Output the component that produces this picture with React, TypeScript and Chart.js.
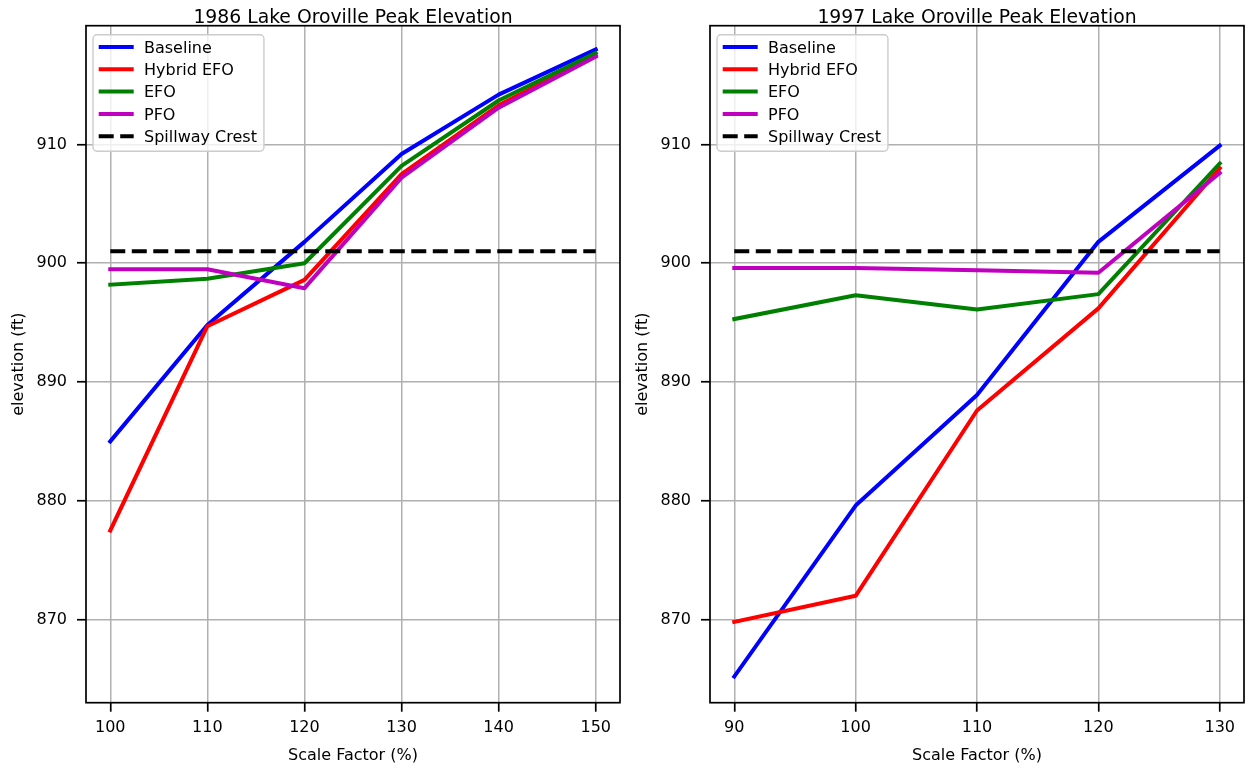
import React, { useEffect, useRef } from 'react';
import { Chart, registerables } from 'chart.js';

Chart.register(...registerables);

const FONT = '"DejaVu Sans", "Liberation Sans", sans-serif';

// ---------- data ----------
const seriesLabels = ['Baseline', 'Hybrid EFO', 'EFO', 'PFO', 'Spillway Crest'];
const seriesColors = ['#0000ff', '#ff0000', '#008000', '#bf00bf', '#000000'];

const title1986 = '1986 Lake Oroville Peak Elevation';
const x1986 = [100, 110, 120, 130, 140, 150];
const baseline1986 = [885.0, 894.8, 901.8, 909.2, 914.2, 918.0];
const hybrid1986 = [877.5, 894.7, 898.6, 907.5, 913.3, 917.5];
const efo1986 = [898.2, 898.7, 900.0, 908.2, 913.7, 917.7];
const pfo1986 = [899.5, 899.5, 897.9, 907.2, 913.1, 917.4];
const spill1986 = [901.0, 901.0, 901.0, 901.0, 901.0, 901.0];
const xTicks1986 = [100, 110, 120, 130, 140, 150];

const title1997 = '1997 Lake Oroville Peak Elevation';
const x1997 = [90, 100, 110, 120, 130];
const baseline1997 = [865.2, 879.6, 888.9, 901.8, 909.9];
const hybrid1997 = [869.8, 872.0, 887.6, 896.2, 908.0];
const efo1997 = [895.3, 897.3, 896.1, 897.4, 908.4];
const pfo1997 = [899.6, 899.6, 899.4, 899.2, 907.6];
const spill1997 = [901.0, 901.0, 901.0, 901.0, 901.0];
const xTicks1997 = [90, 100, 110, 120, 130];

const yTicks = [870, 880, 890, 900, 910];
const yLabel = 'elevation (ft)';
const xLabel = 'Scale Factor (%)';

const FS = 16;
const TITLE_FS = 18.8;

// ---------- plugins ----------
const framePlugin = {
  id: 'frameAndLegend',
  afterDatasetsDraw(chart: any) {
    const { ctx, chartArea } = chart;
    const { left, top, right, bottom } = chartArea;
    ctx.save();
    ctx.strokeStyle = '#000';
    ctx.lineWidth = 1.7;
    ctx.strokeRect(left, top, right - left, bottom - top);

    // legend
    ctx.font = `${FS}px ${FONT}`;
    const datasets = chart.data.datasets;
    let maxW = 0;
    datasets.forEach((d: any) => {
      maxW = Math.max(maxW, ctx.measureText(d.label).width);
    });
    const bx = left + 7;
    const by = top + 9;
    const textOff = 51;
    const bw = textOff + maxW + 7;
    const bh = 116.6;
    const r = 4;
    ctx.beginPath();
    ctx.moveTo(bx + r, by);
    ctx.lineTo(bx + bw - r, by);
    ctx.arcTo(bx + bw, by, bx + bw, by + r, r);
    ctx.lineTo(bx + bw, by + bh - r);
    ctx.arcTo(bx + bw, by + bh, bx + bw - r, by + bh, r);
    ctx.lineTo(bx + r, by + bh);
    ctx.arcTo(bx, by + bh, bx, by + bh - r, r);
    ctx.lineTo(bx, by + r);
    ctx.arcTo(bx, by, bx + r, by, r);
    ctx.closePath();
    ctx.fillStyle = 'rgba(255,255,255,0.8)';
    ctx.fill();
    ctx.strokeStyle = '#cccccc';
    ctx.lineWidth = 1.4;
    ctx.stroke();

    datasets.forEach((d: any, i: number) => {
      const rowY = top + 21.3 + i * 22.3;
      ctx.save();
      ctx.strokeStyle = d.borderColor;
      ctx.lineWidth = d.borderWidth;
      ctx.setLineDash(d.borderDash || []);
      ctx.lineCap = 'butt';
      ctx.beginPath();
      ctx.moveTo(bx + 5.7, rowY);
      ctx.lineTo(bx + 40.7, rowY);
      ctx.stroke();
      ctx.restore();
      ctx.fillStyle = '#000';
      ctx.textAlign = 'left';
      ctx.textBaseline = 'alphabetic';
      ctx.fillText(d.label, bx + textOff, rowY + 0.365 * FS);
    });

    // title
    const t = chart.options.plugins.customTitle?.text;
    if (t) {
      ctx.font = `${TITLE_FS}px ${FONT}`;
      ctx.fillStyle = '#000';
      ctx.textAlign = 'center';
      ctx.textBaseline = 'alphabetic';
      ctx.fillText(t, (left + right) / 2, 22.7);
    }
    ctx.restore();
  },
};

type Panel = {
  title: string;
  xs: number[];
  series: number[][];
  xTicks: number[];
  xMin: number;
  xMax: number;
  padRight: number;
};

function makeConfig(p: Panel): any {
  const tickFont = { family: FONT, size: FS };
  const datasets = p.series.map((vals, i) => ({
    label: seriesLabels[i],
    data: p.xs.map((x, j) => ({ x, y: vals[j] })),
    borderColor: seriesColors[i],
    backgroundColor: seriesColors[i],
    borderWidth: 4,
    borderDash: i === 4 ? [15, 6.5] : [],
    borderCapStyle: i === 4 ? 'butt' : 'square',
    borderJoinStyle: 'round',
    pointRadius: 0,
    pointHoverRadius: 0,
    tension: 0,
    fill: false,
    order: 4 - i,
  }));
  const grid = {
    color: '#b0b0b0',
    lineWidth: 1.5,
    tickLength: 9,
    tickColor: '#000',
    tickWidth: 1.7,
    drawTicks: true,
  };
  return {
    type: 'line',
    data: { datasets },
    plugins: [framePlugin],
    options: {
      animation: false,
      responsive: false,
      devicePixelRatio: 1,
      events: [],
      layout: { padding: { left: 0, right: p.padRight, top: 25.7, bottom: 0 } },
      plugins: {
        legend: { display: false },
        title: { display: false },
        tooltip: { enabled: false },
        customTitle: { text: p.title },
      },
      scales: {
        x: {
          type: 'linear',
          min: p.xMin,
          max: p.xMax,
          afterBuildTicks: (s: any) => {
            s.ticks = p.xTicks.map((v) => ({ value: v }));
          },
          afterFit: (s: any) => {
            s.height = 769 - 702.7;
          },
          ticks: {
            font: tickFont,
            color: '#000',
            padding: 7,
            maxRotation: 0,
            autoSkip: false,
            callback: (v: any) => String(v),
          },
          grid,
          border: { display: false },
          title: {
            display: true,
            text: xLabel,
            font: tickFont,
            color: '#000',
            padding: { top: 0, bottom: 4 },
          },
        },
        y: {
          type: 'linear',
          min: 863,
          max: 920,
          afterBuildTicks: (s: any) => {
            s.ticks = yTicks.map((v) => ({ value: v }));
          },
          afterFit: (s: any) => {
            s.width = 86;
          },
          ticks: {
            font: tickFont,
            color: '#000',
            padding: 10,
            callback: (v: any) => String(v),
          },
          grid,
          border: { display: false },
          title: {
            display: true,
            text: yLabel,
            font: tickFont,
            color: '#000',
            padding: { top: 9, bottom: 0 },
          },
        },
      },
    },
  };
}

function ChartPanel({ panel, left, width }: { panel: Panel; left: number; width: number }) {
  const ref = useRef<HTMLCanvasElement | null>(null);
  useEffect(() => {
    if (!ref.current) return;
    const chart = new Chart(ref.current, makeConfig(panel));
    return () => chart.destroy();
  }, [panel]);
  return (
    <canvas
      ref={ref}
      width={width}
      height={769}
      style={{ position: 'absolute', left, top: 0, width, height: 769 }}
    />
  );
}

const panel1986: Panel = {
  title: title1986,
  xs: x1986,
  series: [baseline1986, hybrid1986, efo1986, pfo1986, spill1986],
  xTicks: xTicks1986,
  xMin: 97.5,
  xMax: 152.5,
  padRight: 4,
};

const panel1997: Panel = {
  title: title1997,
  xs: x1997,
  series: [baseline1997, hybrid1997, efo1997, pfo1997, spill1997],
  xTicks: xTicks1997,
  xMin: 88,
  xMax: 132,
  padRight: 3,
};

export default function App() {
  return (
    <div
      style={{
        position: 'absolute',
        left: 0,
        top: 0,
        width: 1247,
        height: 769,
        background: '#fff',
        overflow: 'hidden',
      }}
    >
      <ChartPanel panel={panel1986} left={0} width={624} />
      <ChartPanel panel={panel1997} left={624} width={623} />
    </div>
  );
}
